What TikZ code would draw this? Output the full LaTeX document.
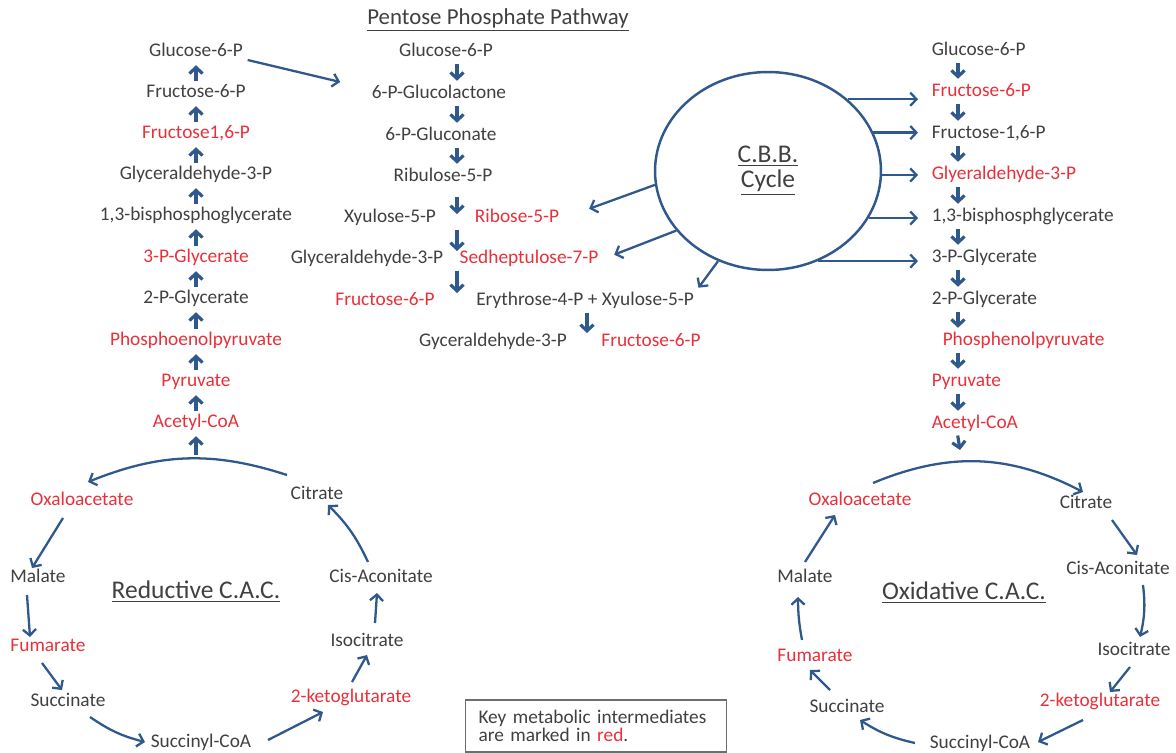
\documentclass[tikz,border=0pt]{standalone}
\usepackage{fontspec}
\setmainfont{Carlito}
\usetikzlibrary{arrows.meta,calc,shapes.geometric}
\definecolor{arrblue}{RGB}{47,88,140}
\definecolor{keyred}{RGB}{232,48,58}
\definecolor{txtgray}{RGB}{64,64,64}
\definecolor{boxgray}{RGB}{110,110,110}

\begin{document}
\begin{tikzpicture}[
  x=0.02cm, y=-0.02cm,
  met/.style={font=\fontsize{11}{13}\selectfont, text=txtgray, inner sep=2.5pt, text height=7.5pt, text depth=2.2pt},
  key/.style={met, text=keyred},
  heading/.style={font=\fontsize{14.5}{17}\selectfont, text=txtgray},
  flow/.style={draw=arrblue, line width=1.3pt, -{Straight Barb[length=3.5pt,width=7.5pt]}},
  stepup/.style={flow, line width=1.8pt, shorten <=-1pt}
]
\useasboundingbox (0,0) rectangle (1176,753);

% left column
\node[met] (l1) at (196,52) {Glucose-6-P};
\node[met] (l2) at (196,93) {Fructose-6-P};
\node[key] (l3) at (196,134) {Fructose1,6-P};
\node[met] (l4) at (196,175) {Glyceraldehyde-3-P};
\node[met] (l5) at (196,216) {1,3-bisphosphoglycerate};
\node[key] (l6) at (196,258) {3-P-Glycerate};
\node[met] (l7) at (196,299) {2-P-Glycerate};
\node[key] (l8) at (196,341) {Phosphoenolpyruvate};
\node[key] (l9) at (196,382) {Pyruvate};
\node[key] (l10) at (196,423) {Acetyl-CoA};
\coordinate (lfoot) at (196,453);
\draw[stepup] (l2) -- (l1);
\draw[stepup] (l3) -- (l2);
\draw[stepup] (l4) -- (l3);
\draw[stepup] (l5) -- (l4);
\draw[stepup] (l6) -- (l5);
\draw[stepup] (l7) -- (l6);
\draw[stepup] (l8) -- (l7);
\draw[stepup] (l9) -- (l8);
\draw[stepup] (l10) -- (l9);
\draw[stepup] (lfoot) -- (l10);

% pentose phosphate pathway
\node[font=\fontsize{13}{15}\selectfont, text=txtgray] (ppp) at (498,20) {\underline{Pentose Phosphate Pathway}};
\coordinate (pa) at (457,0);
\coordinate (pb) at (587,0);
\node[met] (pg1) at (446,52) {Glucose-6-P};
\node[met] (pg2) at (439,94) {6-P-Glucolactone};
\node[met] (pg3) at (441,136) {6-P-Gluconate};
\node[met] (pg4) at (443,177) {Ribulose-5-P};
\node[met] (xylo) at (390,218) {Xyulose-5-P};
\node[key] (ribo) at (517,218) {Ribose-5-P};
\node[met] (gly3) at (367,259) {Glyceraldehyde-3-P};
\node[key] (sed) at (529,259) {Sedheptulose-7-P};
\node[key] (fru6) at (385,301) {Fructose-6-P};
\node[met] (ery) at (585,301) {Erythrose-4-P + Xyulose-5-P};
\node[met] (gyc) at (493,342) {Gyceraldehyde-3-P};
\node[key] (fru6b) at (651,342) {Fructose-6-P};
\draw[flow] ([yshift=-0.16cm]l1.east) -- ([xshift=-0.54cm,yshift=0.24cm]pg2.west);
\draw[stepup] (pg1.south -| pa) -- (pg2.north -| pa);
\draw[stepup] (pg2.south -| pa) -- (pg3.north -| pa);
\draw[stepup] (pg3.south -| pa) -- (pg4.north -| pa);
\draw[stepup, shorten <=0.14cm, shorten >=0.08cm] (pg4.south -| pa) -- (xylo.center -| pa);
\draw[stepup, shorten >=0.16cm] (xylo.south -| pa) -- (gly3.center -| pa);
\draw[stepup, shorten >=0.16cm] (gly3.south -| pa) -- (fru6.center -| pa);
\draw[stepup, shorten >=0.18cm] (ery.south -| pb) -- (gyc.center -| pb);

% C.B.B. cycle
\node[ellipse, draw=arrblue, line width=1.4pt, minimum width=4.52cm, minimum height=3.96cm,
  font=\fontsize{14.5}{14.2}\selectfont, text=txtgray, align=center] (cbb) at (768,171)
  {\underline{C.B.B.}\\\underline{Cycle}};

% right column
\coordinate (ra) at (958,0);
\node[met, anchor=west] (r1) at (927,51) {Glucose-6-P};
\node[key, anchor=west] (r2) at (927,92) {Fructose-6-P};
\node[met, anchor=west] (r3) at (927,134) {Fructose-1,6-P};
\node[key, anchor=west] (r4) at (927,175) {Glyeraldehyde-3-P};
\node[met, anchor=west] (r5) at (927,217) {1,3-bisphosphglycerate};
\node[met, anchor=west] (r6) at (927,258) {3-P-Glycerate};
\node[met, anchor=west] (r7) at (927,300) {2-P-Glycerate};
\node[key, anchor=west] (r8) at (938,341) {Phosphenolpyruvate};
\node[key, anchor=west] (r9) at (927,382) {Pyruvate};
\node[key, anchor=west] (r10) at (927,424) {Acetyl-CoA};
\coordinate (rfoot) at (960,450);
\draw[stepup] (r1.south -| ra) -- (r2.north -| ra);
\draw[stepup] (r2.south -| ra) -- (r3.north -| ra);
\draw[stepup] (r3.south -| ra) -- (r4.north -| ra);
\draw[stepup] (r4.south -| ra) -- (r5.north -| ra);
\draw[stepup] (r5.south -| ra) -- (r6.north -| ra);
\draw[stepup] (r6.south -| ra) -- (r7.north -| ra);
\draw[stepup] (r7.south -| ra) -- (r8.north -| ra);
\draw[stepup] (r8.south -| ra) -- (r9.north -| ra);
\draw[stepup] (r9.south -| ra) -- (r10.north -| ra);
\draw[stepup] (r10.south -| ra) -- (rfoot);

\draw[flow, shorten >=0.18cm] (cbb.42) -- (cbb.42 -| r2.west);
\draw[flow, shorten >=0.18cm] (cbb.20) -- (cbb.20 -| r3.west);
\draw[flow, shorten >=0.18cm] (cbb.-2) -- (cbb.-2 -| r4.west);
\draw[flow, shorten >=0.18cm] (cbb.-25) -- (cbb.-25 -| r5.west);
\draw[flow, shorten >=0.18cm] (cbb.-61) -- (cbb.-61 -| r6.west);
\draw[flow, shorten >=0.54cm] (cbb.187) -- (ribo.east);
\draw[flow, shorten >=0.24cm] (cbb.213) -- (sed.east);
\draw[flow] (cbb.241) -- (ery.north east);

% reductive C.A.C.
\node[heading] (rtitle) at (196,592) {\underline{Reductive C.A.C.}};
\node[key] (roxa) at (82,501) {Oxaloacetate};
\node[met] (rcit) at (317,495) {Citrate};
\node[met] (rmal) at (38,578) {Malate};
\node[key] (rfum) at (48,647) {Fumarate};
\node[met] (rsuc) at (68,702) {Succinate};
\node[met] (rsco) at (201,743) {Succinyl-CoA};
\node[key] (rkg) at (351,698) {2-ketoglutarate};
\node[met] (riso) at (367,642) {Isocitrate};
\node[met] (rcis) at (381,578) {Cis-Aconitate};
\draw[flow] ($(rcit)+(-30,-20)$) to[bend right=20] ($(roxa)+(6,-19)$);
\draw[flow] ($(roxa)+(-19,17)$) -- ($(rmal)+(-6,-10)$);
\draw[flow] ($(rmal)+(-11,17)$) -- ($(rfum)+(-18,-10)$);
\draw[flow] ($(rfum)+(-6,16)$) -- ($(rsuc)+(-6,-12)$);
\draw[flow] ($(rsuc)+(22,15)$) to[bend right=10] ($(rsco)+(-56,-1)$);
\draw[flow] ($(rsco)+(67,-3)$) -- ($(rkg)+(-28,14)$);
\draw[flow] ($(rkg)+(1,-16)$) -- ($(riso)+(0,13)$);
\draw[flow] ($(riso)+(8,-19)$) -- ($(rcis)+(-4,15)$);
\draw[flow] ($(rcis)+(-13,-16)$) to[bend right=10] ($(rcit)+(11,10)$);

% oxidative C.A.C.
\node[heading] (otitle) at (964,593) {\underline{Oxidative C.A.C.}};
\node[key] (ooxa) at (860,501) {Oxaloacetate};
\node[met] (ocit) at (1086,504) {Citrate};
\node[met] (ocis) at (1118,570) {Cis-Aconitate};
\node[met] (oiso) at (1134,651) {Isocitrate};
\node[key] (okg) at (1100,702) {2-ketoglutarate};
\node[met] (osco) at (980,744) {Succinyl-CoA};
\node[met] (osuc) at (847,708) {Succinate};
\node[key] (ofum) at (815,657) {Fumarate};
\node[met] (omal) at (805,578) {Malate};
\draw[flow] ($(ooxa)+(13,-18)$) to[bend left=25] ($(ocit)+(-3,-12)$);
\draw[flow] ($(ocit)+(26,16)$) -- ($(ocis)+(19,-15)$);
\draw[flow] ($(ocis)+(25,15)$) to[bend left=10] ($(oiso)+(6,-14)$);
\draw[flow] ($(oiso)+(-4,16)$) -- ($(okg)+(10,-10)$);
\draw[flow] ($(okg)+(-17,18)$) -- ($(osco)+(58,-2)$);
\draw[flow] ($(osco)+(-65,-1)$) to[bend left=10] ($(osuc)+(13,12)$);
\draw[flow] ($(osuc)+(-17,-18)$) -- ($(ofum)+(-5,13)$);
\draw[flow] ($(ofum)+(-13,-17)$) to[bend left=5] ($(omal)+(-7,19)$);
\draw[flow] ($(omal)+(0,-16)$) -- ($(ooxa)+(-25,14)$);

% legend
\node[draw=boxgray, line width=0.8pt, text=txtgray, font=\fontsize{11}{10.5}\selectfont,
  align=left, text width=4.7cm, inner xsep=0.26cm, minimum height=1.04cm] (legend) at (596,726)
  {Key metabolic intermediates\\are marked in \textcolor{keyred}{red}.};
\end{tikzpicture}
\end{document}
